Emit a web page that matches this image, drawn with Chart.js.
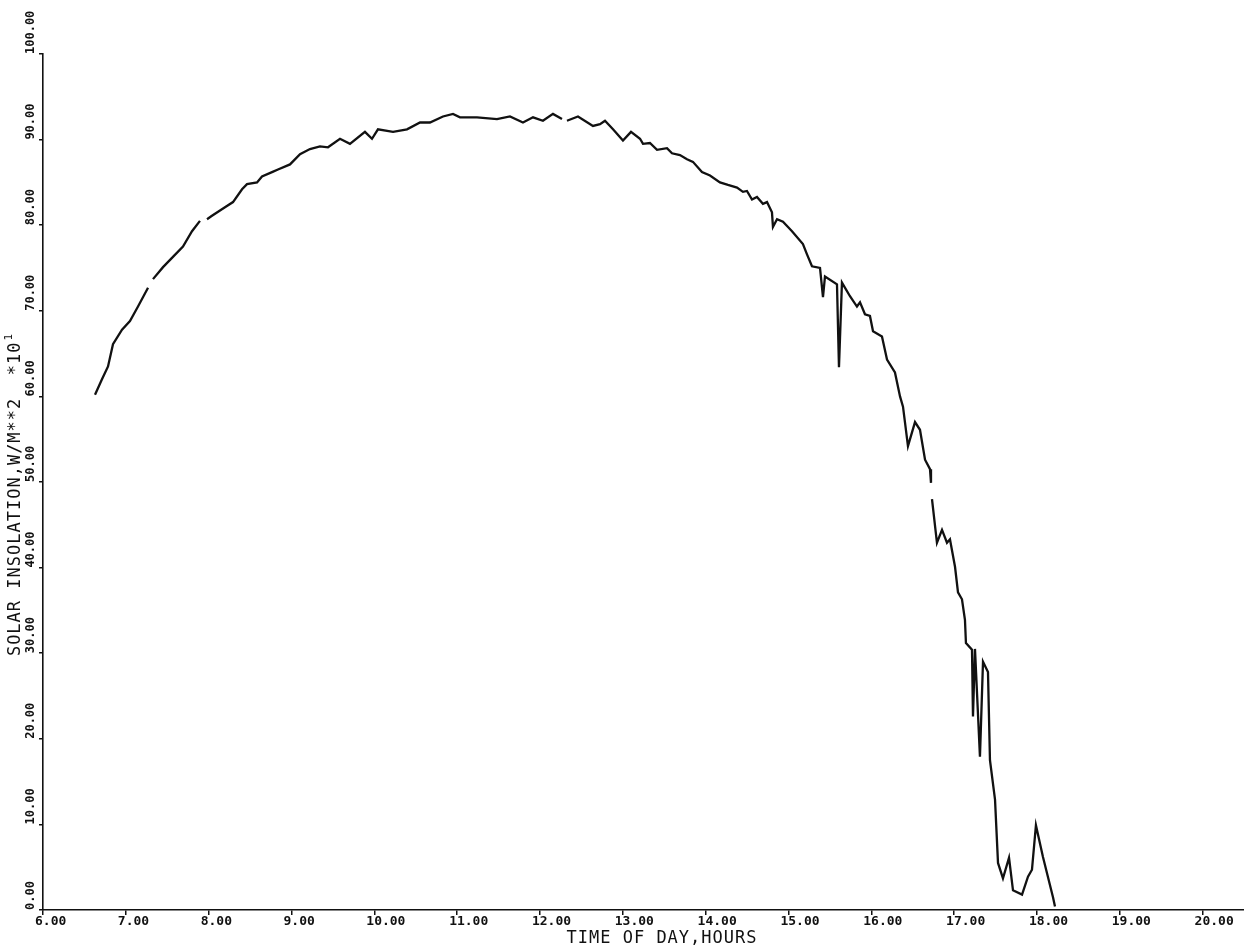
<!DOCTYPE html>
<html>
<head>
<meta charset="utf-8">
<title>Solar insolation vs time of day</title>
<script src="https://cdn.jsdelivr.net/npm/chart.js@4.4.1/dist/chart.umd.min.js"></script>
<style>
  html, body { margin: 0; padding: 0; background: #fff; }
  #wrap { width: 1244px; height: 951px; }
</style>
</head>
<body>
<div id="wrap"><canvas id="plot" width="1244" height="951"></canvas></div>
<script>
// Time of day (hours) and recorded insolation (W/m^2 x 10). null = pen lift.
const hours = [
  6.628, 6.712, 6.785, 6.845, 6.954, 7.050, 7.147, 7.268, 7.29, 7.328,
  7.449, 7.569, 7.690, 7.799, 7.895, 7.93, 7.980, 8.040, 8.197, 8.294,
  8.403, 8.463, 8.584, 8.644, 8.765, 8.837, 8.982, 9.103, 9.223, 9.344,
  9.441, 9.586, 9.706, 9.887, 9.972, 10.044, 10.226, 10.395, 10.552, 10.672,
  10.829, 10.950, 11.034, 11.240, 11.481, 11.638, 11.795, 11.916, 12.036, 12.157,
  12.266, 12.30, 12.326, 12.459, 12.640, 12.725, 12.785, 12.882, 13.002, 13.099,
  13.208, 13.244, 13.328, 13.413, 13.534, 13.594, 13.690, 13.775, 13.847, 13.956,
  14.053, 14.173, 14.270, 14.379, 14.451, 14.499, 14.560, 14.620, 14.692, 14.741,
  14.801, 14.813, 14.862, 14.934, 15.043, 15.175, 15.224, 15.284, 15.381, 15.417,
  15.441, 15.586, 15.610, 15.646, 15.743, 15.827, 15.864, 15.924, 15.984, 16.021,
  16.129, 16.190, 16.286, 16.347, 16.383, 16.443, 16.528, 16.588, 16.649, 16.709,
  16.721, 16.727, 16.733, 16.793, 16.854, 16.914, 16.950, 17.011, 17.047, 17.095,
  17.131, 17.143, 17.216, 17.228, 17.252, 17.312, 17.349, 17.409, 17.433, 17.494,
  17.530, 17.590, 17.663, 17.711, 17.820, 17.892, 17.940, 17.988, 18.073, 18.194,
  18.218
];
const insolation = [
  60.2, 62.0, 63.5, 66.1, 67.8, 68.8, 70.5, 72.7, null, 73.7,
  75.1, 76.3, 77.5, 79.3, 80.5, null, 80.7, 81.1, 82.1, 82.7,
  84.2, 84.8, 85.0, 85.7, 86.2, 86.5, 87.1, 88.3, 88.9, 89.2,
  89.1, 90.1, 89.5, 90.9, 90.1, 91.2, 90.9, 91.2, 92.0, 92.0,
  92.7, 93.0, 92.6, 92.6, 92.4, 92.7, 92.0, 92.6, 92.2, 93.0,
  92.4, null, 92.2, 92.7, 91.6, 91.8, 92.2, 91.2, 89.9, 90.9,
  90.1, 89.5, 89.6, 88.8, 89.0, 88.4, 88.2, 87.7, 87.4, 86.2,
  85.8, 85.0, 84.7, 84.4, 83.9, 84.0, 83.0, 83.3, 82.5, 82.7,
  81.5, 79.8, 80.7, 80.4, 79.3, 77.8, 76.6, 75.2, 75.0, 71.6,
  74.0, 73.1, 63.4, 73.3, 71.7, 70.5, 71.0, 69.6, 69.4, 67.6,
  67.0, 64.3, 62.8, 60.0, 58.8, 54.2, 57.0, 56.1, 52.6, 51.5,
  49.9, null, 48.0, 42.9, 44.4, 42.9, 43.3, 40.1, 37.1, 36.3,
  33.9, 31.2, 30.4, 22.6, 30.5, 17.9, 29.0, 27.8, 17.5, 12.9,
  5.5, 3.7, 6.1, 2.3, 1.8, 3.9, 4.7, 9.9, 6.2, 1.5,
  0.4
];
const xTickValues = [6, 7, 8, 9, 10, 11, 12, 13, 14, 15, 16, 17, 18, 19, 20];
const yTickValues = [0, 10, 20, 30, 40, 50, 60, 70, 80, 90, 100];
const xTitle = 'TIME OF DAY,HOURS';
const yTitle = 'SOLAR INSOLATION,W/M**2  *10';
const yTitleExp = '1';

const points = hours.map((h, i) => ({ x: h, y: insolation[i] }));

const INK = '#111';
const X_TICK_FONT = 'bold 13px "DejaVu Sans Mono"';
const Y_TICK_FONT = 'bold 12px "DejaVu Sans Mono"';
const TITLE_FONT = '17px "DejaVu Sans Mono"';
const EXP_FONT = '11px "DejaVu Sans Mono"';

// Tick labels and axis titles in the plotter style
const plotterText = {
  id: 'plotterText',
  afterDraw(chart) {
    const ctx = chart.ctx;
    const xs = chart.scales.x, ys = chart.scales.y;
    ctx.save();
    ctx.fillStyle = INK;

    // x tick labels
    ctx.font = X_TICK_FONT;
    ctx.textAlign = 'left';
    ctx.textBaseline = 'middle';
    xTickValues.forEach(v => {
      const px = xs.getPixelForValue(v);
      ctx.fillText(v.toFixed(2), px - 8, 922);
    });

    // y tick labels, rotated, starting at the tick and running upward
    ctx.font = Y_TICK_FONT;
    yTickValues.forEach(v => {
      const py = ys.getPixelForValue(v);
      ctx.save();
      ctx.translate(31, py);
      ctx.rotate(-Math.PI / 2);
      ctx.textAlign = 'left';
      ctx.textBaseline = 'middle';
      ctx.fillText(v.toFixed(2), 0, 0);
      ctx.restore();
    });

    // x axis title
    ctx.font = TITLE_FONT;
    if ('letterSpacing' in ctx) ctx.letterSpacing = '1px';
    ctx.textAlign = 'center';
    ctx.textBaseline = 'middle';
    ctx.fillText(xTitle, 662, 939);

    // y axis title with exponent
    ctx.save();
    ctx.translate(16, 495);
    ctx.rotate(-Math.PI / 2);
    const w = ctx.measureText(yTitle).width;
    ctx.font = EXP_FONT;
    const we = ctx.measureText(yTitleExp).width;
    const start = -(w + we) / 2;
    ctx.font = TITLE_FONT;
    ctx.textAlign = 'left';
    ctx.fillText(yTitle, start, 0);
    ctx.font = EXP_FONT;
    ctx.fillText(yTitleExp, start + w + 1, -7);
    ctx.restore();

    ctx.restore();
  }
};

new Chart(document.getElementById('plot'), {
  type: 'line',
  data: {
    datasets: [{
      data: points,
      borderColor: INK,
      borderWidth: 2.3,
      pointRadius: 0,
      tension: 0,
      spanGaps: false,
      fill: false
    }]
  },
  options: {
    responsive: false,
    animation: false,
    devicePixelRatio: 1,
    layout: { padding: { top: 54, left: 0, right: 0, bottom: 0 } },
    plugins: { legend: { display: false }, tooltip: { enabled: false } },
    scales: {
      x: {
        type: 'linear',
        min: 6,
        max: 20.5,
        afterBuildTicks: s => { s.ticks = xTickValues.map(v => ({ value: v })); },
        afterFit: s => { s.height = 41; },
        ticks: { display: false },
        grid: { drawOnChartArea: false, drawTicks: true, tickLength: 5, color: INK, lineWidth: 1.5 },
        border: { display: true, color: INK, width: 1.6 }
      },
      y: {
        type: 'linear',
        min: 0,
        max: 100,
        afterBuildTicks: s => { s.ticks = yTickValues.map(v => ({ value: v })); },
        afterFit: s => { s.width = 43; },
        ticks: { display: false },
        grid: { drawOnChartArea: false, drawTicks: true, tickLength: 4, color: INK, lineWidth: 1.5 },
        border: { display: true, color: INK, width: 1.6 }
      }
    }
  },
  plugins: [plotterText]
});
</script>
</body>
</html>
